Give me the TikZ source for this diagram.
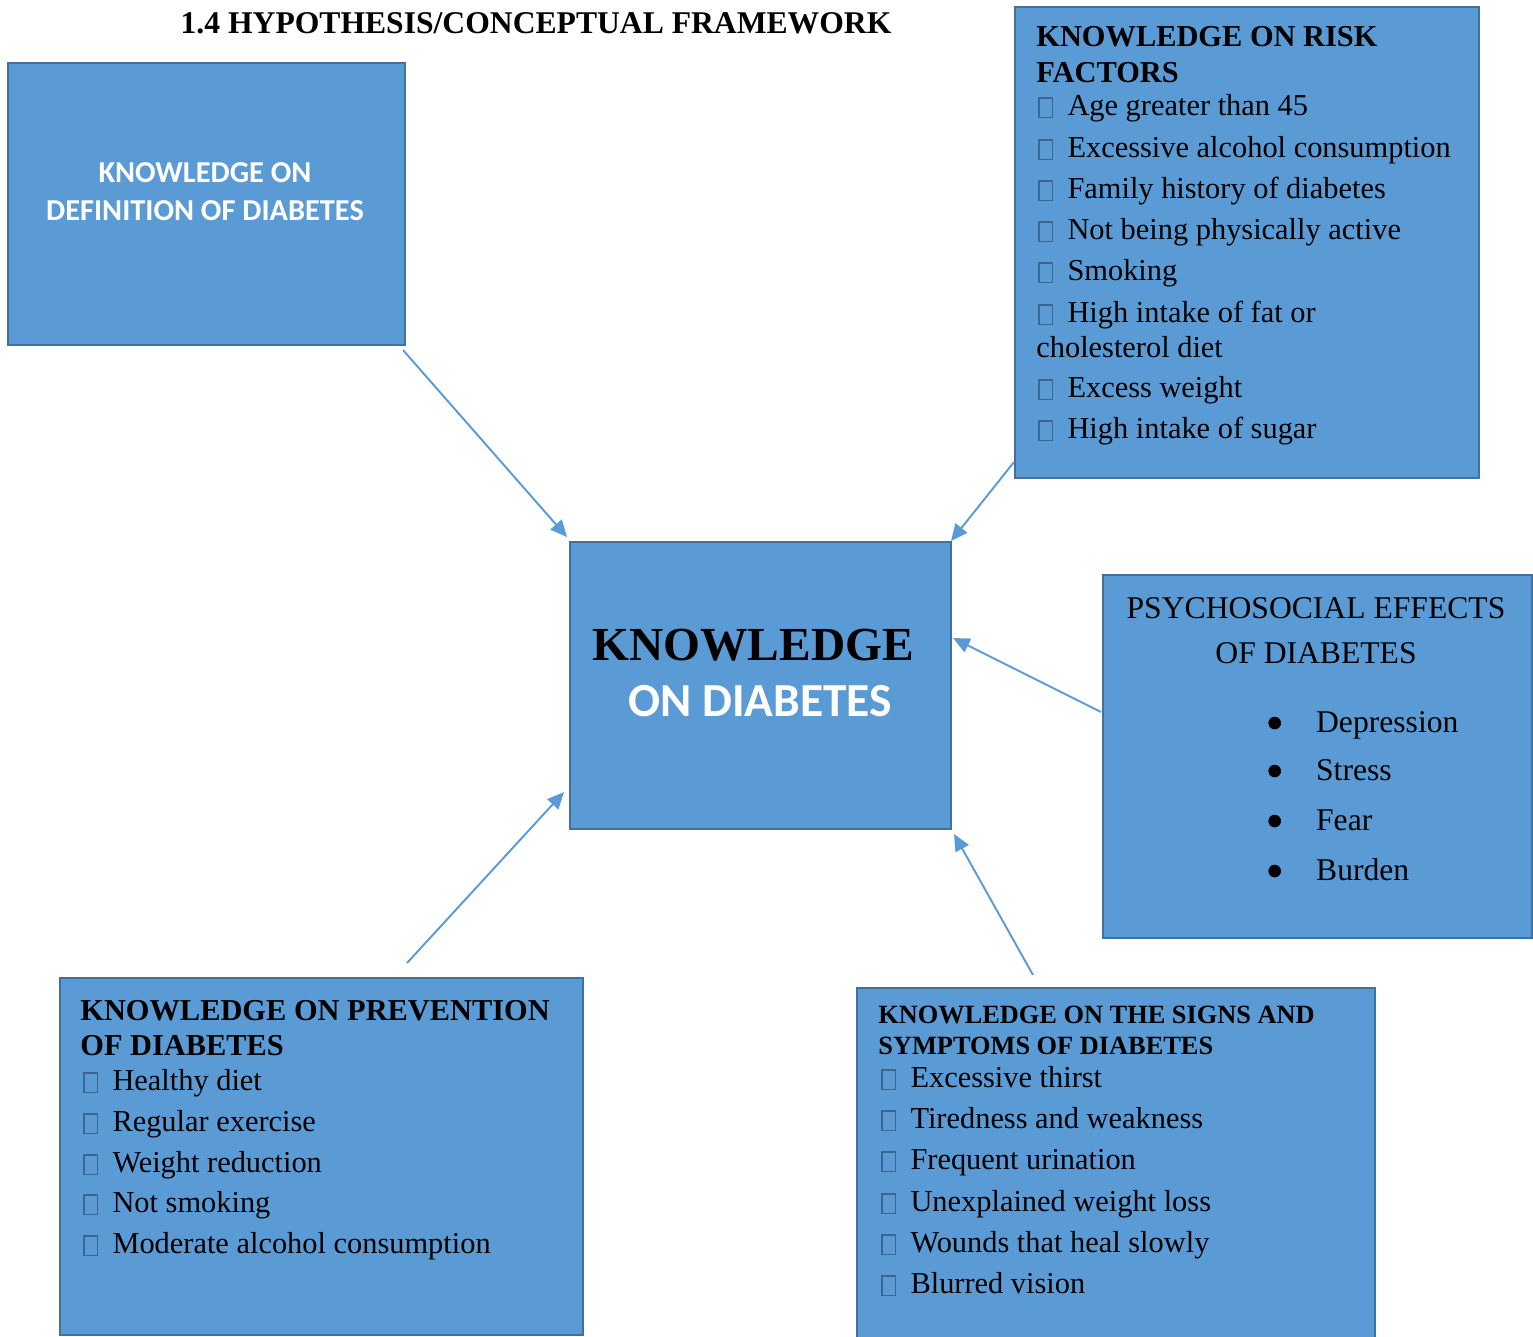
\documentclass[tikz,border=0pt]{standalone}
\usepackage{fontspec}
\setmainfont{Liberation Serif}
\newfontfamily\calibri{Carlito}
\usepackage{xcolor}
\usepackage{tikz}
\usetikzlibrary{arrows.meta, positioning, calc}
\definecolor{boxfill}{HTML}{5B9BD5}
\definecolor{boxedge}{HTML}{41719C}
\definecolor{tickedge}{HTML}{3A6690}
\tikzstyle{box} = [draw=boxedge, fill=boxfill, line width=1.2pt, rectangle, anchor=north west, inner sep=0pt]
\tikzstyle{item} = [anchor=base west, inner sep=0pt, font=\fontsize{17.3}{20}\selectfont]
\tikzstyle{head} = [anchor=base west, inner sep=0pt, font=\bfseries\fontsize{17.3}{20}\selectfont]
\tikzstyle{arrow} = [line width=1.1pt, draw=boxfill, -{Triangle[length=9.5pt,width=8.5pt]}]
\newcommand{\ebox}{\textcolor{tickedge}{\setlength{\fboxsep}{0pt}\setlength{\fboxrule}{0.7pt}\fbox{\rule[-1pt]{0pt}{10.3pt}\hspace{7.2pt}}}\hspace{8pt}}
\newcommand{\bigdot}{\tikz[baseline=0pt]\fill (3.6pt,5.1pt) circle (3.6pt);\hspace{20pt}}

\begin{document}
\begin{tikzpicture}[x=0.02cm, y=-0.02cm]
    \useasboundingbox (0,0) rectangle (1533,1336);

    % Title
    \node[anchor=base, inner sep=0pt, font=\bfseries\fontsize{18}{20}\selectfont] (title) at (536,33) {1.4 HYPOTHESIS/CONCEPTUAL FRAMEWORK};

    % Boxes
    \node[box, minimum width=7.94cm, minimum height=5.64cm] (def) at (7,62) {};
    \node[box, minimum width=9.28cm, minimum height=9.42cm] (risk) at (1014,6) {};
    \node[box, minimum width=7.62cm, minimum height=5.74cm] (ctr) at (569,541) {};
    \node[box, minimum width=8.58cm, minimum height=7.26cm] (psy) at (1102,574) {};
    \node[box, minimum width=10.46cm, minimum height=7.14cm] (prev) at (59,977) {};
    \node[box, minimum width=10.36cm, minimum height=7.2cm] (signs) at (856,987) {};

    % Definition
    \node[anchor=base, inner sep=0pt, text=white, font=\calibri\bfseries\fontsize{17.3}{20}\selectfont] (def-l1) at (205,182) {KNOWLEDGE ON};
    \node[anchor=base, inner sep=0pt, text=white, font=\calibri\bfseries\fontsize{17.3}{20}\selectfont] (def-l2) at (205,220) {DEFINITION OF DIABETES};

    % Centre
    \node[anchor=base, inner sep=0pt, font=\bfseries\fontsize{27}{30}\selectfont] (ctr-l1) at (753,660) {KNOWLEDGE};
    \node[anchor=base, inner sep=0pt, text=white, font=\calibri\bfseries\fontsize{27}{30}\selectfont] (ctr-l2) at (760,716) {ON DIABETES};

    % Risk factors
    \node[head] (risk-h1) at (1036,46) {KNOWLEDGE ON RISK};
    \node[head] (risk-h2) at (1036,82) {FACTORS};
    \foreach \yy/\txt [count=\i] in {115/Age greater than 45, 157/Excessive alcohol consumption, 198/Family history of diabetes, 239/Not being physically active, 280/Smoking, 322/High intake of fat or, 397/Excess weight, 438/High intake of sugar}
        \node[item] (risk-\i) at (1038,\yy) {\ebox\txt};
    \node[item] (risk-chol) at (1036,357) {cholesterol diet};

    % Psychosocial effects
    \node[anchor=base, inner sep=0pt, font=\fontsize{18}{20}\selectfont] (psy-h1) at (1316,618) {PSYCHOSOCIAL EFFECTS};
    \node[anchor=base, inner sep=0pt, font=\fontsize{18}{20}\selectfont] (psy-h2) at (1316,663) {OF DIABETES};
    \foreach \yy/\txt [count=\i] in {732/Depression, 780/Stress, 830/Fear, 880/Burden}
        \node[item, font=\fontsize{18}{20}\selectfont] (psy-\i) at (1268,\yy) {\bigdot\txt};

    % Prevention
    \node[head] (prev-h1) at (80,1020) {KNOWLEDGE ON PREVENTION};
    \node[head] (prev-h2) at (80,1055) {OF DIABETES};
    \foreach \yy/\txt [count=\i] in {1090/Healthy diet, 1131/Regular exercise, 1172/Weight reduction, 1212/Not smoking, 1253/Moderate alcohol consumption}
        \node[item] (prev-\i) at (83,\yy) {\ebox\txt};

    % Signs and symptoms
    \node[head, font=\bfseries\fontsize{15}{17}\selectfont] (signs-h1) at (878,1023) {KNOWLEDGE ON THE SIGNS AND};
    \node[head, font=\bfseries\fontsize{15}{17}\selectfont] (signs-h2) at (878,1054) {SYMPTOMS OF DIABETES};
    \foreach \yy/\txt [count=\i] in {1087/Excessive thirst, 1128/Tiredness and weakness, 1169/Frequent urination, 1211/Unexplained weight loss, 1252/Wounds that heal slowly, 1293/Blurred vision}
        \node[item] (signs-\i) at (881,\yy) {\ebox\txt};

    % Arrows
    \draw[arrow] ($(def.south east)+(-3,4)$) -- ($(ctr.north west)+(-2,-4)$);
    \draw[arrow] ($(risk.south west)+(0,-17)$) -- ($(ctr.north east)+(-1,0)$);
    \draw[arrow] ($(psy.north west)+(-1,138)$) -- ($(ctr.north east)+(1,97)$);
    \draw[arrow] ($(signs.north west)+(177,-12)$) -- ($(ctr.south east)+(2,4)$);
    \draw[arrow] ($(prev.north west)+(348,-14)$) -- ($(ctr.south west)+(-5,-38)$);
\end{tikzpicture}
\end{document}
